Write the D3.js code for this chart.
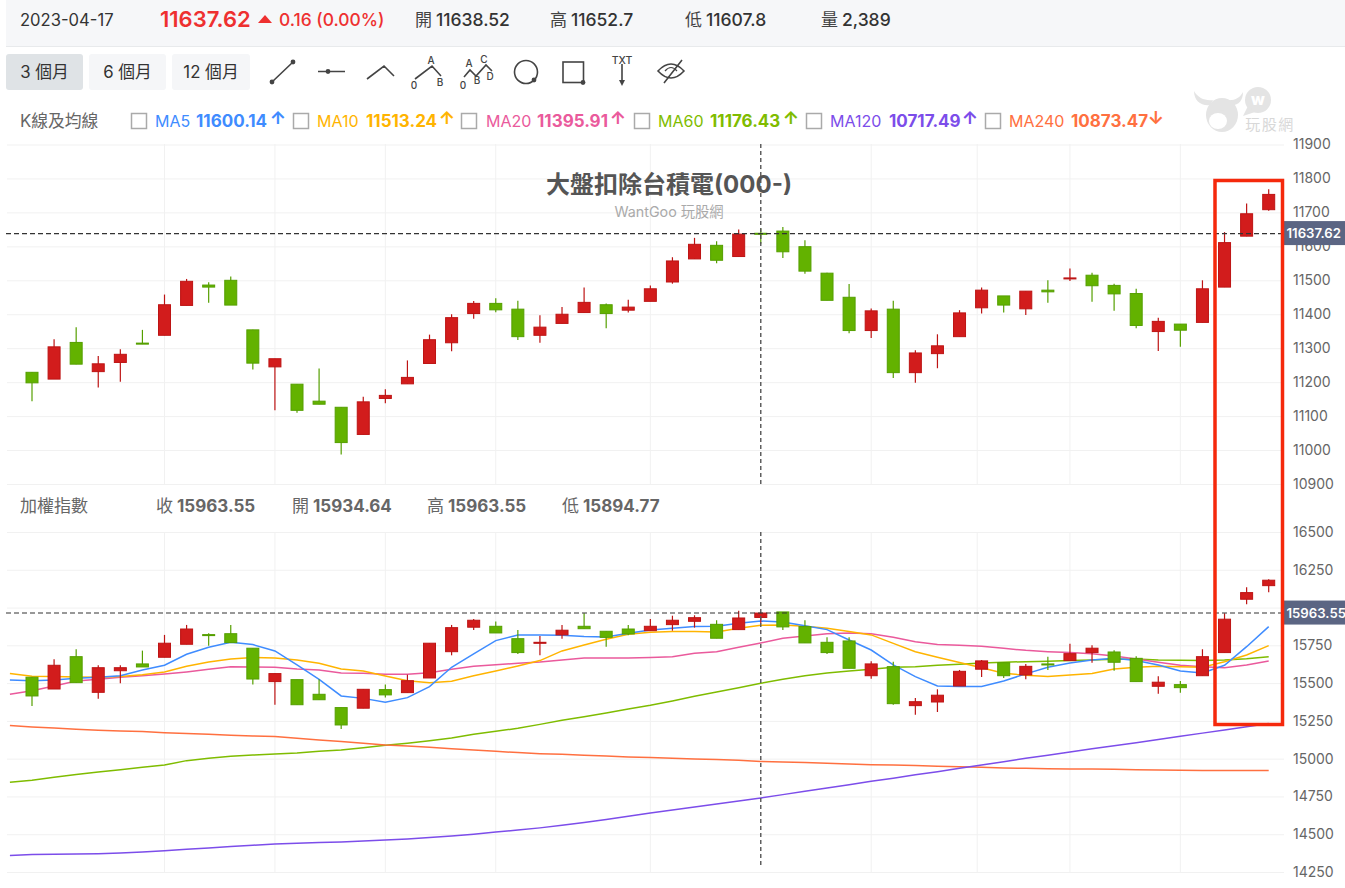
<!DOCTYPE html>
<html>
<head>
<meta charset="utf-8">
<script src="https://cdn.jsdelivr.net/npm/d3@7/dist/d3.min.js"></script>
<style>
  html, body { margin: 0; padding: 0; background: #fff; overflow: hidden; }
  text { font-family: Inter, "Noto Sans CJK TC", sans-serif; }
  .tick line { stroke: #f1f1f1; }
  .tick text { fill: #666; font-size: 14px; }
</style>
</head>
<body>
<svg id="chart" width="1345" height="888"></svg>
<script>
// 大盤扣除台積電, one row per candle
const taiexOpen  = [11229,11209,11317,11231,11258,11315,11338,11426,11486,11500,11354,11245,11194,11144,11126,11046,11152,11195,11255,11316,11402,11432,11415,11338,11373,11405,11428,11412,11438,11495,11563,11603,11570,11638.52,11645,11599,11521,11450,11352,11415,11228,11284,11334,11419,11454,11416,11471,11505,11515,11485,11461,11349,11371,11376,11480,11630,11708];
const taiexHigh  = [11229,11326,11362,11277,11297,11354,11458,11504,11494,11511,11354,11269,11194,11240,11126,11157,11179,11264,11340,11400,11439,11447,11440,11397,11421,11479,11432,11443,11485,11568,11625,11615,11650,11652.7,11657,11618,11522,11489,11417,11440,11294,11341,11412,11479,11454,11468,11500,11535,11522,11490,11475,11390,11371,11500,11642,11726,11768];
const taiexLow   = [11144,11209,11253,11184,11201,11312,11338,11426,11434,11427,11237,11117,11110,11135,10987,11046,11138,11195,11255,11291,11387,11406,11324,11316,11373,11405,11359,11405,11438,11490,11563,11550,11570,11607.8,11566,11519,11441,11344,11330,11212,11198,11241,11334,11402,11405,11398,11434,11498,11437,11410,11359,11292,11304,11376,11480,11630,11705];
const taiexClose = [11198,11304,11253,11254,11282,11312,11428,11497,11480,11427,11256,11269,11117,11135,11022,11142,11161,11214,11325,11390,11432,11413,11334,11362,11400,11435,11402,11421,11475,11557,11606,11559,11636,11637.62,11584,11527,11441,11352,11410,11228,11286,11307,11404,11471,11427,11468,11466,11507,11484,11460,11367,11379,11353,11475,11611,11696,11753];

// 加權指數
const twseOpen  = [15539,15461,15675,15439,15582,15627,15671,15757,15821,15827,15731,15510,15523,15426,15338,15334,15457,15437,15534,15708,15870,15876,15794,15766,15819,15876,15843,15858,15847,15887,15909,15889,15854,15934.64,15971,15874,15770,15779,15549,15609,15351,15375,15481,15592,15635,15554,15627,15649,15702,15706,15664,15479,15490,15549,15702,16055,16145];
const twseHigh  = [15539,15658,15724,15618,15618,15715,15819,15885,15830,15885,15731,15563,15523,15525,15338,15459,15490,15556,15764,15885,15925,15907,15852,15812,15885,15962,15843,15885,15925,15946,15949,15916,15979,15963.55,15971,15916,15803,15803,15645,15642,15402,15459,15587,15653,15635,15627,15675,15761,15750,15717,15678,15545,15514,15724,15962,16134,16187];
const twseLow   = [15349,15461,15503,15397,15499,15607,15671,15757,15748,15768,15490,15357,15357,15390,15197,15334,15404,15437,15534,15684,15852,15832,15693,15684,15794,15860,15741,15817,15847,15847,15867,15797,15854,15894.77,15852,15766,15693,15598,15529,15357,15291,15309,15481,15541,15534,15525,15587,15649,15635,15582,15510,15430,15437,15549,15702,16022,16101];
const twseClose = [15415,15618,15503,15602,15602,15607,15764,15858,15817,15768,15527,15563,15357,15390,15223,15459,15422,15516,15764,15867,15916,15832,15702,15770,15850,15860,15803,15825,15876,15916,15933,15797,15931,15963.55,15872,15766,15702,15598,15627,15364,15377,15420,15578,15647,15549,15611,15620,15695,15731,15638,15510,15506,15470,15675,15923,16099,16181];

// moving averages start one candle before the first bar
const ma5   = [15521,15516,15521,15532,15538,15549,15587,15618,15691,15737,15770,15755,15713,15620,15525,15415,15399,15373,15404,15477,15605,15693,15781,15819,15819,15816,15808,15805,15830,15852,15863,15874,15876,15896,15911,15905,15880,15854,15785,15719,15620,15543,15481,15477,15477,15514,15561,15605,15633,15653,15664,15649,15620,15580,15567,15618,15741,15874];
const ma10  = [15563,15545,15543,15541,15538,15543,15556,15574,15611,15640,15660,15669,15666,15653,15631,15594,15580,15547,15516,15503,15512,15549,15580,15613,15649,15713,15752,15790,15823,15836,15841,15841,15838,15863,15883,15885,15876,15863,15841,15819,15763,15708,15671,15636,15602,15565,15552,15543,15554,15563,15594,15605,15611,15609,15605,15642,15686,15748];
const ma20  = [15426,15450,15481,15514,15525,15538,15549,15560,15574,15591,15609,15607,15605,15594,15587,15567,15565,15558,15558,15569,15591,15611,15622,15631,15640,15653,15666,15666,15666,15669,15675,15697,15708,15737,15766,15797,15812,15827,15832,15827,15803,15774,15755,15750,15744,15730,15717,15708,15702,15695,15680,15660,15638,15618,15609,15602,15620,15647];
const ma60  = [14844,14857,14877,14896,14912,14927,14943,14958,14987,15002,15016,15024,15031,15038,15049,15057,15073,15088,15102,15119,15137,15161,15181,15201,15227,15254,15278,15302,15329,15353,15382,15413,15441,15470,15499,15525,15549,15567,15580,15591,15605,15609,15618,15624,15633,15638,15642,15644,15649,15653,15658,15660,15653,15651,15649,15653,15662,15675];
const ma120 = [14360,14365,14367,14369,14371,14376,14382,14391,14400,14409,14418,14427,14436,14441,14445,14449,14455,14462,14469,14478,14488,14500,14514,14528,14542,14559,14577,14597,14619,14640,14660,14680,14700,14720,14740,14762,14784,14806,14828,14850,14871,14893,14914,14936,14958,14980,15002,15023,15044,15065,15086,15106,15127,15148,15169,15190,15211,15232];
const ma240 = [15219,15210,15203,15194,15188,15183,15179,15172,15166,15161,15155,15150,15146,15135,15124,15113,15102,15091,15084,15075,15066,15058,15049,15040,15033,15029,15022,15018,15011,15007,15002,14998,14994,14989,14982,14978,14974,14969,14965,14960,14958,14954,14949,14947,14943,14938,14936,14934,14932,14932,14930,14927,14925,14923,14921,14921,14921,14921];

const maLabels = ["MA5", "MA10", "MA20", "MA60", "MA120", "MA240"];
const maValues = ["11600.14", "11513.24", "11395.91", "11176.43", "10717.49", "10873.47"];
const maArrows = ["↑", "↑", "↑", "↑", "↑", "↓"];
const maColors = ["#3f8cff", "#ffb400", "#ea5a9c", "#7fbc00", "#7c4dea", "#ff7040"];
const maSeries = [ma60, ma240, ma120, ma20, ma10, ma5];
const maSeriesColors = ["#7fbc00", "#ff7040", "#7c4dea", "#ea5a9c", "#ffb400", "#3f8cff"];

const topTicks = [11900, 11800, 11700, 11600, 11500, 11400, 11300, 11200, 11100, 11000, 10900];
const lowTicks = [16500, 16250, 16000, 15750, 15500, 15250, 15000, 14750, 14500, 14250];
const gridBars = [6, 11, 16, 21, 28, 38, 42.8, 47, 52];
const crossBar = 33;

const svg = d3.select("#chart");
const up = "#d21c1c", upEdge = "#bd1414";
const down = "#63b200", downEdge = "#559f00";

const x = d3.scaleLinear().domain([0, 56]).range([32, 1268.7]);
const yTop = d3.scaleLinear().domain([10900, 11900]).range([484, 144.5]);
const yLow = d3.scaleLinear().domain([14250, 16500]).range([872, 532]);

function label(g, px, py, str, size, color, weight, anchor) {
  return g.append("text").attr("x", px).attr("y", py).attr("dy", "0.36em")
    .attr("font-size", size).attr("fill", color)
    .attr("font-weight", weight || 400).attr("text-anchor", anchor || "start").text(str);
}

// header strip
svg.append("rect").attr("x", 6).attr("y", 0).attr("width", 1339).attr("height", 46).attr("fill", "#f6f7f9");
svg.append("line").attr("x1", 6).attr("x2", 1345).attr("y1", 46.5).attr("y2", 46.5).attr("stroke", "#e8eaec");
const head = svg.append("g");
label(head, 20, 20, "2023-04-17", 16.6, "#333");
label(head, 160, 19, "11637.62", 22, "#ee3030", 600);
head.append("path").attr("d", "M258 23L265 15L272 23Z").attr("fill", "#ee3030");
label(head, 279, 20, "0.16 (0.00%)", 17.4, "#ee3030", 500);
[["開", "11638.52", 415], ["高", "11652.7", 550], ["低", "11607.8", 685], ["量", "2,389", 821]].forEach(d => {
  label(head, d[2], 20, d[0], 17, "#444");
  label(head, d[2] + 21, 20, d[1], 17.5, "#333", 500);
});

// range buttons
[["3 個月", 6, 77, "#dfe3e6"], ["6 個月", 89, 77, "#f5f6f8"], ["12 個月", 172, 78, "#f5f6f8"]].forEach(d => {
  svg.append("rect").attr("x", d[1]).attr("y", 54).attr("width", d[2]).attr("height", 36).attr("rx", 3).attr("fill", d[3]);
  label(svg, d[1] + d[2] / 2, 72, d[0], 16.8, "#333", 400, "middle");
});

// drawing tools
const tools = svg.append("g").attr("fill", "none").attr("stroke", "#444").attr("stroke-width", 1.6);
tools.append("path").attr("d", "M272 82L293 62M318 71.5H345M367 79L384 66L394 76M415 79L432 66L441 76M464 77L470 70L476 76L486 65L492 71M622 64V82M664 83L682 60");
tools.append("circle").attr("cx", 526).attr("cy", 72).attr("r", 11.5);
tools.append("rect").attr("x", 563).attr("y", 62).attr("width", 20.5).attr("height", 20.5);
tools.append("path").attr("d", "M658 71Q671 57 684 71Q671 85 658 71Z");
tools.append("path").attr("d", "M665 71Q671 64 677 71").attr("stroke-width", 1.2);
const toolDots = svg.append("g").attr("fill", "#444");
[[272, 82], [293, 62], [328, 71.5], [534, 80], [583, 82.5]].forEach(d => {
  toolDots.append("circle").attr("cx", d[0]).attr("cy", d[1]).attr("r", 2.4);
});
toolDots.append("path").attr("d", "M619 80H625L622 86Z");
[["A", 431, 60], ["0", 414, 85], ["B", 440, 82], ["A", 469, 63], ["B", 477, 80], ["C", 484, 59], ["D", 490, 76], ["0", 463, 85], ["TXT", 622, 60]].forEach(d => {
  label(svg, d[1], d[2], d[0], d[0] === "TXT" ? 10.5 : 10, "#444", 500, "middle");
});

// legend row
label(svg, 20, 121, "K線及均線", 16.8, "#666");
const boxX = [131, 293, 461, 634, 806, 985];
const nameX = [155, 317, 486, 658, 830, 1009];
const valX = [196, 366, 537, 710, 889, 1071];
const arrowX = [278, 447, 618, 791, 970, 1156];
maLabels.forEach((name, i) => {
  svg.append("rect").attr("x", boxX[i] + 0.5).attr("y", 113.5).attr("width", 15).attr("height", 15).attr("fill", "#fff").attr("stroke", "#aaa").attr("stroke-width", 1.5);
  label(svg, nameX[i], 121, name, 16, maColors[i]);
  label(svg, valX[i], 121, maValues[i], 17, maColors[i], 700);
  label(svg, arrowX[i], 117.5, maArrows[i], 18, maColors[i], 700, "middle");
});

// watermark
const mark = svg.append("g").attr("fill", "#e4e4e4");
mark.append("path").attr("d", "M1194 91C1194 101 1201 106 1210 105L1213 100C1205 101 1198 98 1194 91Z");
mark.append("path").attr("d", "M1243 92C1243 101 1238 106 1230 105L1227 100C1234 101 1240 98 1243 92Z");
mark.append("ellipse").attr("cx", 1222).attr("cy", 115).attr("rx", 16).attr("ry", 17);
svg.append("ellipse").attr("cx", 1218).attr("cy", 121).attr("rx", 9).attr("ry", 8).attr("fill", "#fff");
mark.append("ellipse").attr("cx", 1222).attr("cy", 114).attr("rx", 9).attr("ry", 4);
mark.append("circle").attr("cx", 1258).attr("cy", 100).attr("r", 13);
mark.append("path").attr("d", "M1248 106L1243 116L1255 112Z");
label(svg, 1258, 99, "w", 16, "#fff", 800, "middle");
label(svg, 1270, 125, "玩股網", 15, "#d8d8d8", 400, "middle").attr("letter-spacing", 1.5);

// panel grids and axes, the 16000 label sits behind the price tag
function drawAxis(scale, ticks, top, bottom) {
  const g = svg.append("g").attr("transform", "translate(1284,0)")
    .call(d3.axisRight(scale).tickValues(ticks).tickFormat(d => (d === 16000 ? "" : d3.format("d")(d))).tickSize(-1277).tickPadding(9));
  g.select(".domain").remove();
  g.selectAll(".tick text").attr("x", 9);
  svg.append("g").selectAll("line").data(gridBars).join("line")
    .attr("x1", d => x(d)).attr("x2", d => x(d))
    .attr("y1", top).attr("y2", bottom)
    .attr("stroke", "#f1f1f1");
}
drawAxis(yTop, topTicks, 144, 484);
drawAxis(yLow, lowTicks, 532, 872);

label(svg, 669, 184, "大盤扣除台積電(000-)", 24, "#555", 700, "middle");
label(svg, 669, 212, "WantGoo 玩股網", 14.3, "#aaa", 400, "middle");

// lower panel heading
label(svg, 20, 506, "加權指數", 17, "#666");
[["收", "15963.55", 156], ["開", "15934.64", 292], ["高", "15963.55", 427], ["低", "15894.77", 562]].forEach(d => {
  label(svg, d[2], 506, d[0], 17, "#666");
  label(svg, d[2] + 21, 506, d[1], 17, "#666", 700);
});

// moving averages go under the candles in the lower panel
const maLine = d3.line().x((d, i) => x(i - 1)).y(d => yLow(d));
const maGroup = svg.append("g").attr("fill", "none").attr("stroke-width", 1.5);
maSeries.forEach((s, i) => {
  maGroup.append("path").datum(s).attr("d", maLine).attr("stroke", maSeriesColors[i]);
});

function drawCandles(o, h, l, c, y) {
  const g = svg.append("g").selectAll("g").data(o.map((d, i) => i)).join("g");
  const color = i => (c[i] >= o[i] ? up : down);
  const edge = i => (c[i] >= o[i] ? upEdge : downEdge);
  g.append("line")
    .attr("x1", i => x(i)).attr("x2", i => x(i))
    .attr("y1", i => y(h[i])).attr("y2", i => y(l[i]))
    .attr("stroke", edge).attr("stroke-width", 1.2);
  g.append("rect")
    .attr("x", i => x(i) - 6)
    .attr("width", 12)
    .attr("y", i => y(Math.max(o[i], c[i])))
    .attr("height", i => Math.max(1, Math.abs(y(o[i]) - y(c[i]))))
    .attr("fill", color).attr("stroke", edge).attr("stroke-width", 1);
}
drawCandles(taiexOpen, taiexHigh, taiexLow, taiexClose, yTop);
drawCandles(twseOpen, twseHigh, twseLow, twseClose, yLow);

// crosshair and last price lines
[[144, 484], [532, 868]].forEach(d => {
  svg.append("line").attr("x1", x(crossBar)).attr("x2", x(crossBar)).attr("y1", d[0]).attr("y2", d[1])
    .attr("stroke", "#555").attr("stroke-width", 1.4).attr("stroke-dasharray", "4,3");
});
[[yTop(11637.62), "11637.62"], [yLow(15963.55), "15963.55"]].forEach(d => {
  svg.append("line").attr("x1", 6).attr("x2", 1284).attr("y1", d[0]).attr("y2", d[0])
    .attr("stroke", "#333").attr("stroke-width", 1.1).attr("stroke-dasharray", "5,3");
  svg.append("rect").attr("x", 1284).attr("y", d[0] - 12.5).attr("width", 61).attr("height", 24).attr("fill", "#5b6583");
  label(svg, 1286.5, d[0], d[1], 13.2, "#fff", 600);
});

// annotation box around the last three bars
svg.append("rect").attr("x", 1215).attr("y", 180.5).attr("width", 67.5).attr("height", 544)
  .attr("fill", "none").attr("stroke", "#f5290c").attr("stroke-width", 3.5);
</script>
</body>
</html>
